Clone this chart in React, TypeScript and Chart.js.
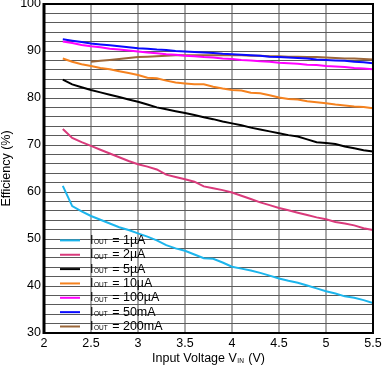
import React, { useEffect, useRef } from "react";
import { Chart, registerables } from "chart.js";

Chart.register(...registerables);

const VOLTAGE = [2.2, 2.3, 2.4, 2.5, 2.6, 2.7, 2.8, 2.9, 3.0, 3.1, 3.2, 3.3, 3.4, 3.5, 3.6, 3.7, 3.8, 3.9, 4.0, 4.1, 4.2, 4.3, 4.4, 4.5, 4.6, 4.7, 4.8, 4.9, 5.0, 5.1, 5.2, 5.3, 5.4, 5.5];

const EFF_1UA = [61.3, 57.0, 55.9, 54.9, 54.1, 53.3, 52.5, 51.9, 51.2, 50.5, 49.7, 48.7, 48.0, 47.5, 46.7, 45.9, 45.8, 45.0, 44.1, 43.7, 43.3, 42.8, 42.2, 41.6, 41.1, 40.7, 40.1, 39.5, 38.9, 38.4, 37.8, 37.5, 37.0, 36.4];
const EFF_2UA = [73.4, 71.5, 70.6, 69.8, 69.0, 68.2, 67.4, 66.6, 65.9, 65.4, 64.8, 63.7, 63.2, 62.7, 62.2, 61.2, 60.8, 60.4, 59.9, 59.2, 58.5, 57.8, 57.2, 56.6, 56.1, 55.6, 55.1, 54.6, 54.2, 53.6, 53.3, 52.9, 52.3, 51.9];
const EFF_5UA = [83.9, 82.9, 82.3, 81.7, 81.2, 80.7, 80.2, 79.7, 79.2, 78.6, 78.0, 77.6, 77.2, 76.8, 76.4, 75.9, 75.5, 75.0, 74.6, 74.2, 73.7, 73.3, 72.9, 72.5, 72.1, 71.8, 71.2, 70.6, 70.4, 70.2, 69.7, 69.3, 68.9, 68.6];
const EFF_10UA = [88.4, 87.7, 87.2, 86.8, 86.4, 86.1, 85.7, 85.3, 84.9, 84.3, 84.2, 83.7, 83.3, 83.1, 82.9, 82.9, 82.4, 82.0, 81.7, 81.6, 81.1, 81.0, 80.6, 80.1, 79.8, 79.7, 79.3, 79.1, 78.9, 78.6, 78.4, 78.2, 78.1, 77.8];
const EFF_100UA = [92.0, 91.7, 91.3, 91.0, 90.8, 90.5, 90.3, 90.1, 89.9, 89.7, 89.5, 89.3, 89.2, 89.0, 88.9, 88.7, 88.6, 88.4, 88.3, 88.1, 88.0, 87.8, 87.7, 87.5, 87.4, 87.3, 87.1, 87.0, 86.8, 86.7, 86.6, 86.4, 86.3, 86.1];
const EFF_50MA = [92.5, 92.2, 91.9, 91.6, 91.4, 91.2, 91.0, 90.8, 90.6, 90.5, 90.3, 90.2, 90.0, 89.9, 89.8, 89.7, 89.6, 89.4, 89.3, 89.2, 89.1, 89.0, 88.8, 88.7, 88.6, 88.5, 88.4, 88.2, 88.1, 88.0, 87.9, 87.7, 87.6, 87.4];
const EFF_200MA = [null, null, null, 87.7, 87.9, 88.1, 88.3, 88.5, 88.7, 88.8, 88.9, 89.0, 89.1, 89.1, 89.1, 89.1, 89.1, 89.1, 89.1, 89.1, 89.0, 89.0, 88.9, 88.9, 88.8, 88.8, 88.7, 88.7, 88.6, 88.5, 88.4, 88.4, 88.3, 88.2];

const SERIES_LABELS = ["1µA", "2µA", "5µA", "10µA", "100µA", "50mA", "200mA"];
const SERIES_VALUES = [EFF_1UA, EFF_2UA, EFF_5UA, EFF_10UA, EFF_100UA, EFF_50MA, EFF_200MA];
const SERIES_COLORS = ["#1cb5ec", "#d93a7b", "#000000", "#f5821f", "#ff00ff", "#0a0aff", "#9a6639"];

const X_MIN = 2, X_MAX = 5.5, X_STEP = 0.5;
const Y_MIN = 30, Y_MAX = 100, Y_GRID_STEP = 2, Y_LABEL_STEP = 10;

const FONT = "'Liberation Sans', Arial, sans-serif";

function drawSubText(ctx: CanvasRenderingContext2D, x: number, y: number, main: string, sub: string, rest: string, size: number, subSize: number) {
  ctx.font = `${size}px ${FONT}`;
  ctx.fillText(main, x, y);
  let cx = x + ctx.measureText(main).width;
  ctx.font = `${subSize}px ${FONT}`;
  ctx.fillText(sub, cx + 0.5, y + 2);
  cx += ctx.measureText(sub).width + 1.5;
  ctx.font = `${size}px ${FONT}`;
  ctx.fillText(rest, cx, y);
}

function measureSubText(ctx: CanvasRenderingContext2D, main: string, sub: string, rest: string, size: number, subSize: number) {
  ctx.font = `${size}px ${FONT}`;
  let w = ctx.measureText(main).width + ctx.measureText(rest).width;
  ctx.font = `${subSize}px ${FONT}`;
  w += ctx.measureText(sub).width + 1.5;
  return w;
}

const overlayPlugin = {
  id: "overlay",
  afterDraw(chart: any) {
    const { ctx, chartArea: a } = chart;
    ctx.save();
    // frame
    ctx.strokeStyle = "#000";
    ctx.lineWidth = 2;
    ctx.strokeRect(a.left, a.top, a.right - a.left, a.bottom - a.top);
    ctx.lineWidth = 3;
    ctx.beginPath();
    ctx.moveTo(a.left, a.top - 1);
    ctx.lineTo(a.left, a.bottom + 1);
    ctx.stroke();

    // legend
    const n = SERIES_LABELS.length;
    ctx.fillStyle = "#000";
    ctx.textBaseline = "middle";
    ctx.textAlign = "left";
    for (let i = 0; i < n; i++) {
      const y = a.bottom - 6.5 - (n - 1 - i) * 14.35;
      ctx.strokeStyle = SERIES_COLORS[i];
      ctx.lineWidth = 2;
      ctx.beginPath();
      ctx.moveTo(a.left + 16, y);
      ctx.lineTo(a.left + 36, y);
      ctx.stroke();
      ctx.fillStyle = "#000";
      drawSubText(ctx, a.left + 46, y, "I", "OUT", " = " + SERIES_LABELS[i], 12.5, 6.5);
    }

    // x title
    const xt = measureSubText(ctx, "Input Voltage V", "IN", " (V)", 12.5, 6.5);
    const cx = (a.left + a.right) / 2;
    drawSubText(ctx, cx - xt / 2, 359, "Input Voltage V", "IN", " (V)", 12.5, 6.5);

    // y title
    ctx.translate(7, (a.top + a.bottom) / 2);
    ctx.rotate(-Math.PI / 2);
    ctx.textAlign = "center";
    ctx.font = `12.5px ${FONT}`;
    ctx.fillText("Efficiency (%)", 0, 0);
    ctx.restore();
  },
};

function zeroPad(s: any) {
  s.paddingTop = 0;
  s.paddingBottom = 0;
  s.paddingLeft = 0;
  s.paddingRight = 0;
}

export default function App() {
  const ref = useRef<HTMLCanvasElement>(null);
  useEffect(() => {
    if (!ref.current) return;
    const datasets = SERIES_VALUES.map((vals, i) => ({
      label: SERIES_LABELS[i],
      data: VOLTAGE.map((v, j) => ({ x: v, y: vals[j] })),
      borderColor: SERIES_COLORS[i],
      backgroundColor: SERIES_COLORS[i],
      borderWidth: 2,
      pointRadius: 0,
      tension: 0,
      spanGaps: false,
    }));
    const chart = new Chart(ref.current, {
      type: "line",
      data: { datasets: datasets as any },
      plugins: [overlayPlugin],
      options: {
        animation: false,
        responsive: false,
        events: [],
        layout: { padding: { top: 4, right: 9, left: 0, bottom: 0 } },
        plugins: { legend: { display: false }, tooltip: { enabled: false }, title: { display: false } },
        scales: {
          x: {
            type: "linear",
            min: X_MIN,
            max: X_MAX,
            afterFit: (s: any) => { s.height = 33; zeroPad(s); },
            border: { display: false },
            grid: { color: "#a9a9a9", lineWidth: 2, drawTicks: false },
            ticks: {
              stepSize: X_STEP,
              padding: 3,
              color: "#000",
              font: { family: FONT, size: 12.5 },
              maxRotation: 0,
              autoSkip: false,
              callback: (v: any) => String(Number(v)),
            },
          },
          y: {
            type: "linear",
            min: Y_MIN,
            max: Y_MAX,
            afterFit: (s: any) => { s.width = 44; zeroPad(s); },
            border: { display: false },
            grid: { color: "#5a5a5a", lineWidth: 1, drawTicks: false },
            ticks: {
              stepSize: Y_GRID_STEP,
              padding: 3,
              color: "#000",
              autoSkip: false,
              font: { family: FONT, size: 12.5 },
              callback: (v: any) => (Number(v) % Y_LABEL_STEP === 0 ? String(v) : ""),
            },
          },
        },
      },
    });
    return () => chart.destroy();
  }, []);
  return (
    <div style={{ position: "fixed", left: 0, top: 0, width: 382, height: 366, background: "#fff" }}>
      <canvas ref={ref} width={382} height={366} style={{ display: "block" }} />
    </div>
  );
}
